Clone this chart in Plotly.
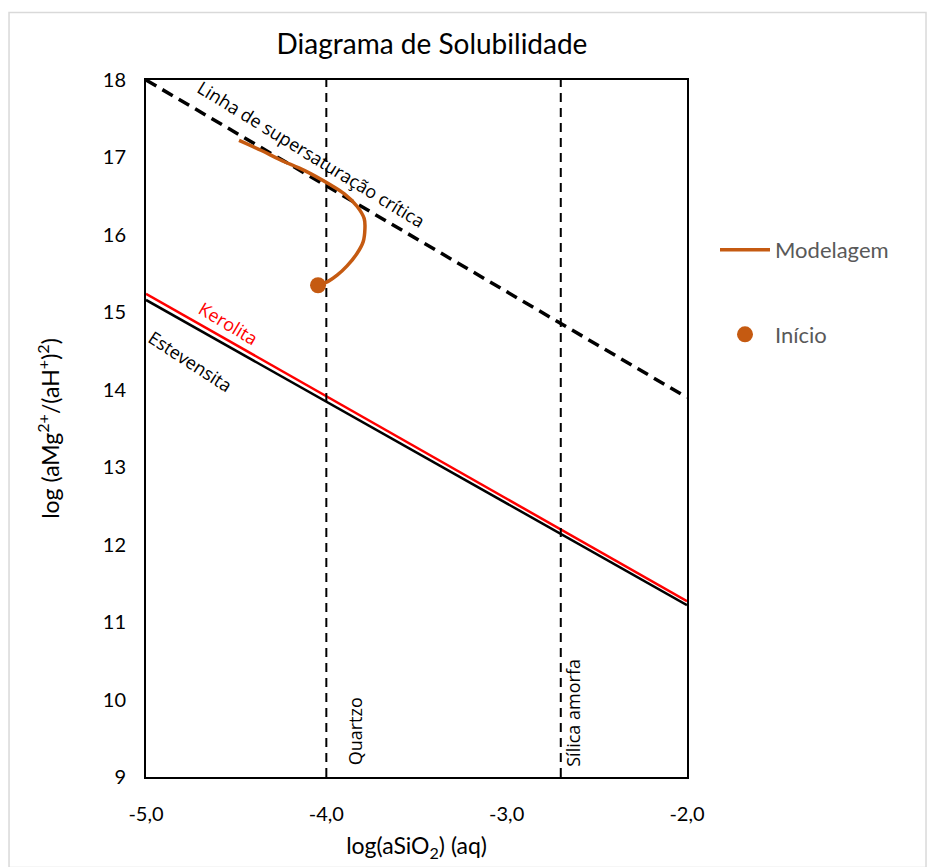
import plotly.graph_objects as go

# Axis ranges and ticks
x_ticks = [-5, -4, -3, -2]
x_tick_labels = ["-5,0", "-4,0", "-3,0", "-2,0"]
y_ticks = [9, 10, 11, 12, 13, 14, 15, 16, 17, 18]

# Equilibrium / reference lines (log aSiO2, log aMg2+/aH+^2)
critica_x = [-5.0, -2.0]
critica_y = [18.0, 13.9]
kerolita_x = [-5.0, -2.0]
kerolita_y = [15.24, 11.27]
estevensita_x = [-5.0, -2.0]
estevensita_y = [15.16, 11.22]
quartzo_x = -4.0
silica_amorfa_x = -2.7

# Modelled path
modelagem_x = [-4.484, -4.36, -4.257, -4.12, -3.98, -3.90, -3.83, -3.79, -3.786, -3.796, -3.83, -3.885, -3.94, -3.99, -4.03]
modelagem_y = [17.22, 17.09, 16.97, 16.83, 16.65, 16.53, 16.37, 16.21, 16.08, 15.91, 15.76, 15.60, 15.48, 15.40, 15.36]
inicio_x = [-4.046]
inicio_y = [15.35]

ORANGE = "#C55A11"
FONT = "Lato"
ANN_FONT = "Open Sans"

fig = go.Figure()

fig.add_trace(go.Scatter(x=critica_x, y=critica_y, mode="lines",
                         line=dict(color="black", width=3.5, dash="12px,7px"),
                         showlegend=False, hoverinfo="skip"))
fig.add_trace(go.Scatter(x=estevensita_x, y=estevensita_y, mode="lines",
                         line=dict(color="black", width=2.5),
                         showlegend=False, hoverinfo="skip"))
fig.add_trace(go.Scatter(x=kerolita_x, y=kerolita_y, mode="lines",
                         line=dict(color="#FF0000", width=2.5),
                         showlegend=False, hoverinfo="skip"))
for xv in (quartzo_x, silica_amorfa_x):
    fig.add_trace(go.Scatter(x=[xv, xv], y=[y_ticks[0], y_ticks[-1]], mode="lines",
                             line=dict(color="black", width=2, dash="9px,6px"),
                             showlegend=False, hoverinfo="skip"))

fig.add_trace(go.Scatter(x=modelagem_x, y=modelagem_y, mode="lines", name="Modelagem",
                         line=dict(color=ORANGE, width=3.5, shape="spline"),
                         legendgroup="a"))
fig.add_trace(go.Scatter(x=inicio_x, y=inicio_y, mode="markers", name="Início",
                         marker=dict(color=ORANGE, size=16),
                         legendgroup="b"))

ann_font = dict(family=ANN_FONT, size=18, color="black")
fig.add_annotation(x=-4.085, y=17.04, text="Linha de supersaturação crítica", showarrow=False,
                   textangle=31.5, font=ann_font)
fig.add_annotation(x=-4.545, y=14.86, text="Kerolita", showarrow=False,
                   textangle=31, font=dict(family=ANN_FONT, size=18, color="#FF0000"))
fig.add_annotation(x=-4.756, y=14.37, text="Estevensita", showarrow=False,
                   textangle=33, font=ann_font)
fig.add_annotation(x=-3.841, y=9.59, text="Quartzo", showarrow=False,
                   textangle=-90, font=ann_font)
fig.add_annotation(x=-2.632, y=9.83, text="Sílica amorfa", showarrow=False,
                   textangle=-90, font=ann_font)

# light outer frame around the whole chart
fig.add_shape(type="rect", xref="paper", yref="paper",
              x0=-0.2532, x1=1.4418, y0=-0.13, y1=1.0969,
              line=dict(color="#D9D9D9", width=1.5), layer="below")

fig.update_layout(
    width=928, height=867,
    margin=dict(l=146, r=241, t=80, b=85),
    paper_bgcolor="white", plot_bgcolor="white",
    separators=",.",
    font=dict(family=FONT, size=20, color="black"),
    title=dict(text="Diagrama de Solubilidade", x=432 / 928, xanchor="center",
               xref="container", y=1 - 44 / 867, yanchor="middle",
               font=dict(family=FONT, size=28, color="black")),
    xaxis=dict(range=[-5, -2], tickvals=x_ticks, ticktext=x_tick_labels,
               showgrid=False, zeroline=False, showline=True, mirror=True,
               linecolor="black", linewidth=2, ticks="", ticklen=0,
               ticklabelstandoff=18,
               tickfont=dict(size=20),
               title=dict(text="log(aSiO<sub>2</sub>) (aq)", font=dict(size=23), standoff=14)),
    yaxis=dict(range=[9, 18], tickvals=y_ticks,
               showgrid=False, zeroline=False, showline=True, mirror=True,
               linecolor="black", linewidth=2, ticks="", ticklen=0,
               ticklabelstandoff=14,
               tickfont=dict(size=20),
               title=dict(text="log (aMg<sup>2+</sup>/(aH<sup>+</sup>)<sup>2</sup>)",
                          font=dict(size=23), standoff=37)),
    legend=dict(x=(715 - 146) / 541, y=(782 - 230) / 702, xanchor="left", yanchor="top",
                itemwidth=50, tracegroupgap=53, bgcolor="rgba(0,0,0,0)",
                font=dict(family=FONT, size=22, color="#595959")),
)

fig.write_html("out.html")
